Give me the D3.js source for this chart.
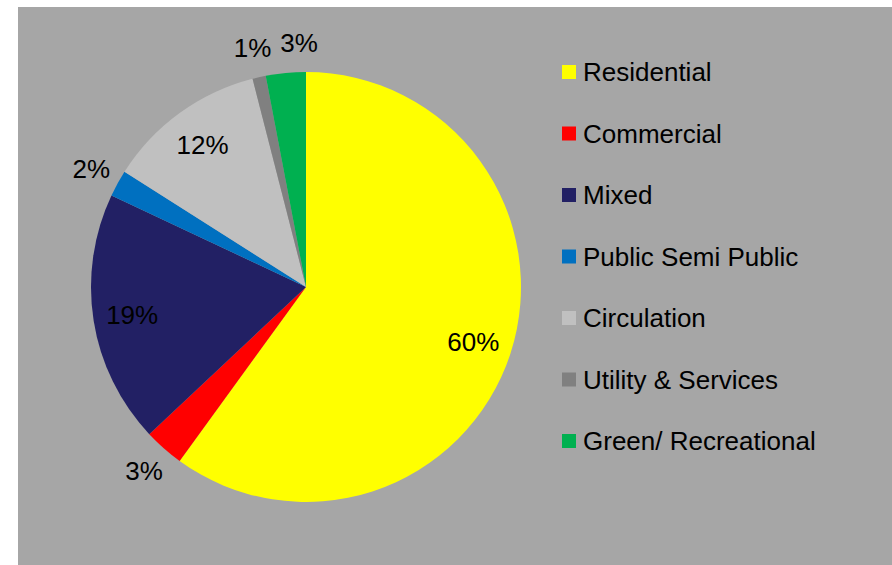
<!DOCTYPE html>
<html>
<head>
<meta charset="utf-8">
<script src="https://cdn.jsdelivr.net/npm/d3@7/dist/d3.min.js"></script>
<style>
  body { margin: 0; background: #fff; }
  text { font-family: "Liberation Sans", Arial, sans-serif; fill: #000; }
</style>
</head>
<body>
<svg width="892" height="565"></svg>
<script>
var categories = ["Residential", "Commercial", "Mixed", "Public Semi Public", "Circulation", "Utility & Services", "Green/ Recreational"],
    values = [60, 3, 19, 2, 12, 1, 3],
    colors = ["#ffff00", "#ff0000", "#222064", "#0070c0", "#c0c0c0", "#808080", "#00b050"];

var svg = d3.select("svg"),
    width = +svg.attr("width"),
    height = +svg.attr("height");

// chart area
svg.append("rect")
    .attr("x", 18)
    .attr("y", 7)
    .attr("width", width - 18)
    .attr("height", height - 7)
    .attr("fill", "#a6a6a6");

var cx = 306, cy = 287, radius = 215;

var data = categories.map(function(c, i) { return {name: c, value: values[i], color: colors[i]}; });

var pie = d3.pie()
    .sort(null)
    .value(function(d) { return d.value; });

var arcs = pie(data);

var arc = d3.arc().innerRadius(0).outerRadius(radius),
    inLabel = d3.arc().innerRadius(176).outerRadius(176),
    outLabel = d3.arc().innerRadius(245).outerRadius(245);

var g = svg.append("g")
    .attr("transform", "translate(" + cx + "," + cy + ")");

g.selectAll("path")
    .data(arcs)
    .enter().append("path")
      .attr("d", arc)
      .attr("fill", function(d) { return d.data.color; });

var labels = g.selectAll("text")
    .data(arcs)
    .enter().append("text")
      .attr("text-anchor", "middle")
      .attr("dy", "0.36em")
      .attr("font-size", 26)
      .text(function(d) { return d.data.value + "%"; })
      .each(function(d) {
        var a = d.data.value >= 10 ? inLabel : outLabel;
        d.pos = a.centroid(d);
        d.w = this.getComputedTextLength();
      });

// push apart outside labels that collide (like the spreadsheet does)
var prev = null;
arcs.forEach(function(d) {
  if (d.data.value >= 10) { prev = null; return; }
  if (prev && Math.abs(d.pos[1] - prev.pos[1]) < 26) {
    var minGap = (prev.w + d.w) / 2 + 9;
    if (d.pos[0] - prev.pos[0] < minGap) d.pos[0] = prev.pos[0] + minGap;
  }
  prev = d;
});

labels.attr("transform", function(d) { return "translate(" + d.pos + ")"; });

// legend
var legend = svg.append("g")
    .attr("transform", "translate(562,72)");

var row = legend.selectAll("g")
    .data(data)
    .enter().append("g")
      .attr("transform", function(d, i) { return "translate(0," + (i * 61.5) + ")"; });

row.append("rect")
    .attr("x", 0)
    .attr("y", -7)
    .attr("width", 14)
    .attr("height", 14)
    .attr("fill", function(d) { return d.color; });

row.append("text")
    .attr("x", 21)
    .attr("dy", "0.36em")
    .attr("font-size", 26)
    .text(function(d) { return d.name; });
</script>
</body>
</html>
